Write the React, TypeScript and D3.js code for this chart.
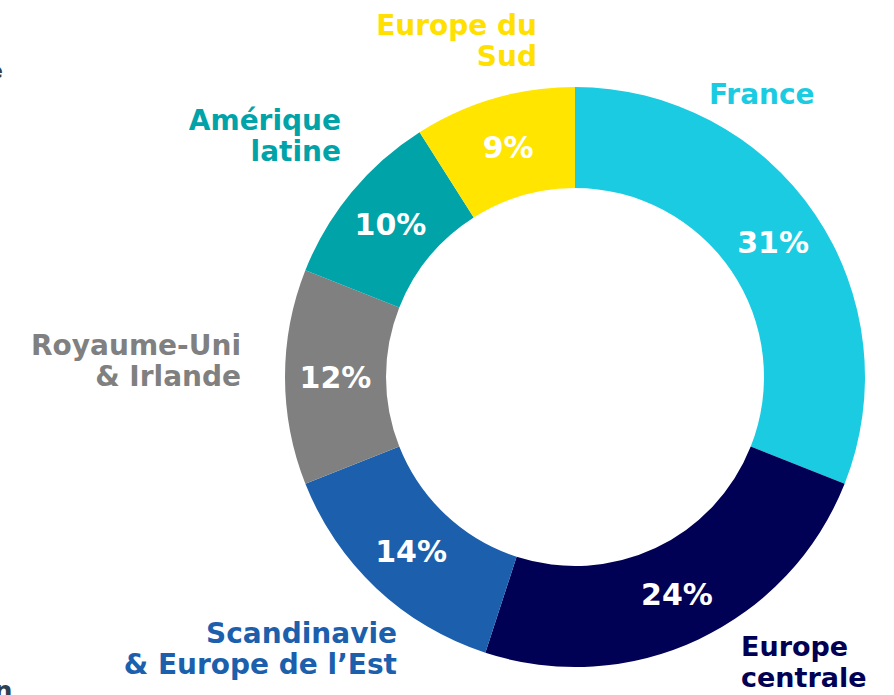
import React from 'react';
import * as d3 from 'd3';

const regions = ['France', 'Europe centrale', 'Scandinavie & Europe de l’Est', 'Royaume-Uni & Irlande', 'Amérique latine', 'Europe du Sud'];
const shares = [31, 24, 14, 12, 10, 9];
const colors = ['#1ACBE2', '#000055', '#1B5FAD', '#808080', '#00A3A8', '#FFE500'];
const labelLines = [['France'], ['Europe', 'centrale'], ['Scandinavie', '& Europe de l’Est'], ['Royaume-Uni', '& Irlande'], ['Amérique', 'latine'], ['Europe du', 'Sud']];
const labelColors = ['#1ACBE2', '#000055', '#1B5FAD', '#808080', '#00A3A8', '#FFE000'];

// where each region name sits: [x, y of first baseline, anchor]
const labelPos: [number, number, string][] = [
  [709, 104, 'start'],
  [741, 656, 'start'],
  [397, 643, 'end'],
  [241, 355, 'end'],
  [341, 130, 'end'],
  [537, 35, 'end'],
];

const W = 894;
const H = 695;
const cx = 575;
const cy = 377;
const outerR = 290;
const innerR = 189;

const App: React.FC = () => {
  const pie = d3.pie<number>().value(d => d).sort(null);
  const arcs = pie(shares);
  const arc = d3.arc<d3.PieArcDatum<number>>().innerRadius(innerR).outerRadius(outerR);

  return (
    <svg width={W} height={H} style={{ position: 'fixed', left: 0, top: 0, background: '#fff' }}
      fontFamily="'DejaVu Sans', sans-serif" fontWeight="bold">
      {/* bits of neighbouring slide text cut off at the left edge */}
      <text x={-12} y={78} fontSize={22} fill="#2E4052">e</text>
      <text x={-6} y={700} fontSize={26} fill="#2E4052">n</text>

      <g transform={`translate(${cx},${cy})`}>
        {arcs.map((a, i) => (
          <path key={regions[i]} d={arc(a) || ''} fill={colors[i]} />
        ))}
        {arcs.map((a, i) => {
          const [x, y] = arc.centroid(a);
          return (
            <text key={'p' + i} x={x} y={y} dy="0.36em" textAnchor="middle" fontSize={30} fill="#fff">
              {shares[i]}%
            </text>
          );
        })}
      </g>

      {labelLines.map((lines, i) => (
        <text key={'l' + i} x={labelPos[i][0]} y={labelPos[i][1]} textAnchor={labelPos[i][2]}
          fontSize={i === 1 ? 27 : 28} fill={labelColors[i]}>
          {lines.map((t, j) => (
            <tspan key={j} x={labelPos[i][0]} dy={j === 0 ? 0 : 31}>{t}</tspan>
          ))}
        </text>
      ))}
    </svg>
  );
};

export default App;
